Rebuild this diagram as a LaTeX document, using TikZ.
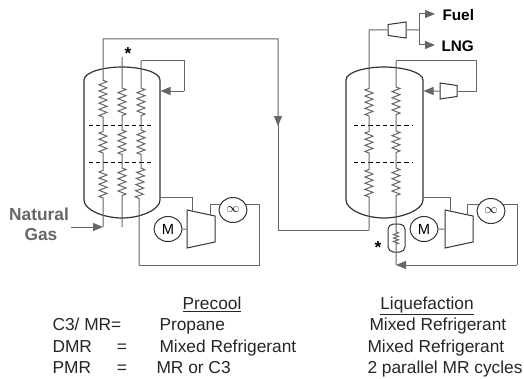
\documentclass[tikz,border=0pt]{standalone}
\usepackage{fontspec}
\setmainfont{Liberation Sans}
\usetikzlibrary{arrows.meta,decorations.pathmorphing,shapes.geometric}

\definecolor{streamgrey}{rgb}{0.40,0.40,0.40}
\definecolor{vesselgrey}{rgb}{0.20,0.20,0.20}

\newcommand{\blankbody}{\rule{1pt}{0pt}\rule{0pt}{1pt}}

\tikzset{every picture/.style={line width=0.75pt}}
\tikzset{
  stream/.style={draw=streamgrey},
  feed/.style={draw=streamgrey,-{Triangle[length=7.5pt,width=6pt,fill=streamgrey]}},
  coil/.style={decoration={zigzag,segment length=4.6pt,amplitude=3pt}},
  vessel/.style={draw=vesselgrey,line width=0.9pt},
  tray/.style={draw=black,dash pattern=on 3.2pt off 2.2pt},
  machine/.style={draw=vesselgrey,ellipse,fill=white,inner sep=0pt,minimum width=28*0.75pt,minimum height=25*0.75pt},
  compressor/.style={draw=vesselgrey,fill=white,trapezium,trapezium stretches=true,inner sep=0pt,trapezium angle=77},
  tabletext/.style={anchor=base west,font=\fontsize{13}{13}\selectfont,text=black!85,inner sep=0pt},
  bigtext/.style={font=\fontsize{13}{14}\selectfont\bfseries,text=black!60,inner sep=0pt},
  producttext/.style={anchor=west,font=\fontsize{11.5}{12}\selectfont\bfseries,inner sep=0pt},
}

\begin{document}
\begin{tikzpicture}[x=0.75pt,y=0.75pt,yscale=-1,xscale=1]
\useasboundingbox (0,0) rectangle (524,378);

%Precool vessel
\draw [vessel] (84,80) .. controls (84,72) and (104,67) .. (122,67) .. controls (140,67) and (160,72) .. (160,80) -- (160,200) .. controls (160,210) and (140,218) .. (122,218) .. controls (104,218) and (84,210) .. (84,200) -- cycle ;
\draw [tray] (89,125) -- (153,125) ;
\draw [tray] (89,162) -- (153,162) ;

%Liquefaction vessel
\draw [vessel] (346,80) .. controls (346,72) and (366,67) .. (384,67) .. controls (402,67) and (423,72) .. (423,80) -- (423,200) .. controls (423,210) and (402,218) .. (384,218) .. controls (366,218) and (346,210) .. (346,200) -- cycle ;
\draw [tray] (354,125) -- (413,125) ;
\draw [tray] (354,162) -- (413,162) ;

%Coil ends, precool
\coordinate (a1t) at (103,80);  \coordinate (a1b) at (103,117);
\coordinate (a2t) at (103,130); \coordinate (a2b) at (103,153);
\coordinate (a3t) at (103,168); \coordinate (a3b) at (103,198);
\coordinate (b1t) at (122,88);  \coordinate (b1b) at (122,117);
\coordinate (b2t) at (122,130); \coordinate (b2b) at (122,155);
\coordinate (b3t) at (122,168); \coordinate (b3b) at (122,197);
\coordinate (c1t) at (141,88);  \coordinate (c1b) at (141,117);
\coordinate (c2t) at (141,130); \coordinate (c2b) at (141,155);
\coordinate (c3t) at (141,168); \coordinate (c3b) at (139,200);

%Coil ends, liquefaction
\coordinate (d1t) at (369,87);  \coordinate (d1b) at (369,116);
\coordinate (d2t) at (369,131); \coordinate (d2b) at (369,153);
\coordinate (d3t) at (369,168); \coordinate (d3b) at (369,197);
\coordinate (e1t) at (396,87);  \coordinate (e1b) at (396,116);
\coordinate (e2t) at (396,131); \coordinate (e2b) at (396,153);
\coordinate (e3t) at (396,168); \coordinate (e3b) at (396,197);

%Free ends and ports
\coordinate (gasIn) at (71,227);
\coordinate (gasFoot) at (103,227);
\coordinate (gasTop) at (103,39);
\coordinate (gasCorner) at (278,39);
\coordinate (gasMid) at (278,125);
\coordinate (gasLow) at (278,230);
\coordinate (gasBack) at (369,230);
\coordinate (starTop) at (122,57);
\coordinate (starFoot) at (122,227);
\coordinate (loopAtop) at (141,61);
\coordinate (loopAin) at (160.5,91);
\coordinate (loopAcorner) at (184,91);
\coordinate (loopAfoot) at (139,265);
\coordinate (loopAright) at (259,265);
\coordinate (vapourA) at (160,197);
\coordinate (vapourAin) at (192,211);
\coordinate (coolerAleft) at (210,204);
\coordinate (coolerAright) at (259,204);
\coordinate (coolerAdown) at (210,216);
\coordinate (tailTop) at (369,30);
\coordinate (fuelTee) at (419,30);
\coordinate (fuelTip) at (435,14);
\coordinate (lngTip) at (435,45);
\coordinate (loopBtop) at (396,61);
\coordinate (loopBright) at (476,61);
\coordinate (loopBport) at (423.5,91);
\coordinate (loopBfoot) at (396,265);
\coordinate (loopBcorner) at (517,265);
\coordinate (loopBupper) at (517,204);
\coordinate (vapourB) at (423,197);
\coordinate (vapourBin) at (450,211);
\coordinate (coolerBleft) at (467,204);
\coordinate (coolerBdown) at (467,215);
\coordinate (subIn) at (396,232);
\coordinate (subOut) at (396,245);

%Coil columns
\draw [stream] (gasFoot) -- (a3b) decorate[coil]{-- (a3t)} -- (a2b) decorate[coil]{-- (a2t)} -- (a1b) decorate[coil]{-- (a1t)} -- (gasTop) -- (gasCorner) -- (gasMid) ;
\draw [stream] (starTop) -- (b1t) decorate[coil]{-- (b1b)} -- (b2t) decorate[coil]{-- (b2b)} -- (b3t) decorate[coil]{-- (b3b)} -- (starFoot) ;
\draw [stream] (loopAtop) -- (c1t) decorate[coil]{-- (c1b)} -- (c2t) decorate[coil]{-- (c2b)} -- (c3t) decorate[coil]{-- (c3b)} -- (loopAfoot) ;
\draw [stream] (gasBack) -- (d3b) decorate[coil]{-- (d3t)} -- (d2b) decorate[coil]{-- (d2t)} -- (d1b) decorate[coil]{-- (d1t)} -- (tailTop) ;
\draw [stream] (loopBtop) -- (e1t) decorate[coil]{-- (e1b)} -- (e2t) decorate[coil]{-- (e2b)} -- (e3t) decorate[coil]{-- (e3b)} -- (subIn) ;

%Cold box under the liquefaction vessel
\node (subBox) [draw=vesselgrey,rounded corners=4pt,minimum width=17*0.75pt,minimum height=28*0.75pt,inner sep=0pt] at (396.5,238) {};
\draw [stream] (subIn) decorate[coil,decoration={segment length=2.6pt,amplitude=1.8pt}]{-- (subOut)} -- (loopBfoot) ;

%Cooler lines, these pass behind the coolers
\draw [stream] (loopAfoot) |- (loopAright) -- (coolerAright) -- (coolerAleft) -- (coolerAdown) ;
\draw [stream] (coolerBdown) -- (coolerBleft) -- (loopBupper) -- (loopBcorner) ;

%Machines
\node (motorA) [machine] at (168,229) {\fontsize{11}{11}\selectfont M};
\node (compA) [compressor,shape border rotate=270,minimum width=38*0.75pt,minimum height=28*0.75pt] at (201,229) {\blankbody};
\node (coolerA) [machine] at (233,210) {$\infty$};
\node (motorB) [machine] at (424,229) {\fontsize{11}{11}\selectfont M};
\node (compB) [compressor,shape border rotate=270,minimum width=38*0.75pt,minimum height=28*0.75pt] at (459,229) {\blankbody};
\node (coolerB) [machine] at (491,211) {$\infty$};
\node (expTop) [compressor,shape border rotate=90,minimum width=16*0.75pt,minimum height=18*0.75pt] at (397,30) {\blankbody};
\node (expLoop) [compressor,shape border rotate=270,minimum width=16*0.75pt,minimum height=17*0.75pt] at (448.5,91) {\blankbody};

%Precool connectors
\draw [feed] (gasIn) -- (gasFoot) ;
\draw [feed] (gasMid) -- ++(0,1) ;
\draw [stream] (gasMid) -- (gasLow) -- (gasBack) ;
\draw [stream] (loopAtop) -| (loopAcorner) ;
\draw [feed] (loopAcorner) -- (loopAin) ;
\draw [stream] (vapourA) -| (vapourAin) ;
\draw [stream] (motorA) -- (compA) ;

%Liquefaction connectors
\draw [stream] (tailTop) -- (expTop) ;
\draw [stream] (expTop) -- (fuelTee) ;
\draw [feed] (fuelTee) |- (fuelTip) ;
\draw [feed] (fuelTee) |- (lngTip) ;
\draw [stream] (loopBtop) -- (loopBright) |- (expLoop) ;
\draw [feed] (expLoop) -- (loopBport) ;
\draw [stream] (vapourB) -| (vapourBin) ;
\draw [stream] (motorB) -- (compB) ;
\draw [feed] (loopBcorner) -- (loopBfoot) ;

% Text Node
\node (gasWord) [bigtext] at (39,214) {Natural};
\node (gasWordB) [bigtext] at (41,235) {Gas};
\node (starA) [inner sep=0pt,font=\fontsize{13}{13}\selectfont\bfseries] at (128,54) {*};
\node (starB) [inner sep=0pt,font=\fontsize{13}{13}\selectfont\bfseries] at (378,248) {*};
\node (fuelLabel) [producttext] at (442,15) {Fuel};
\node (lngLabel) [producttext] at (441,46) {LNG};

% Text Node
\node (headPrecool) [tabletext,anchor=base] at (212,309) {\underline{Precool}};
\node (headLiq) [tabletext,anchor=base] at (427,309) {\underline{Liquefaction}};
\node (rowAname) [tabletext] at (52,330) {C3/ MR=};
\node (rowAfirst) [tabletext] at (159,330) {Propane};
\node (rowAsecond) [tabletext] at (369,330) {Mixed Refrigerant};
\node (rowBname) [tabletext] at (52,352.5) {DMR};
\node (rowBeq) [tabletext,anchor=base] at (122,352.5) {=};
\node (rowBfirst) [tabletext] at (159,352.5) {Mixed Refrigerant};
\node (rowBsecond) [tabletext] at (367,352.5) {Mixed Refrigerant};
\node (rowCname) [tabletext] at (52,373.5) {PMR};
\node (rowCeq) [tabletext,anchor=base] at (122,373.5) {=};
\node (rowCfirst) [tabletext] at (156,373.5) {MR or C3};
\node (rowCsecond) [tabletext] at (367,373.5) {2 parallel MR cycles};

\end{tikzpicture}
\end{document}
